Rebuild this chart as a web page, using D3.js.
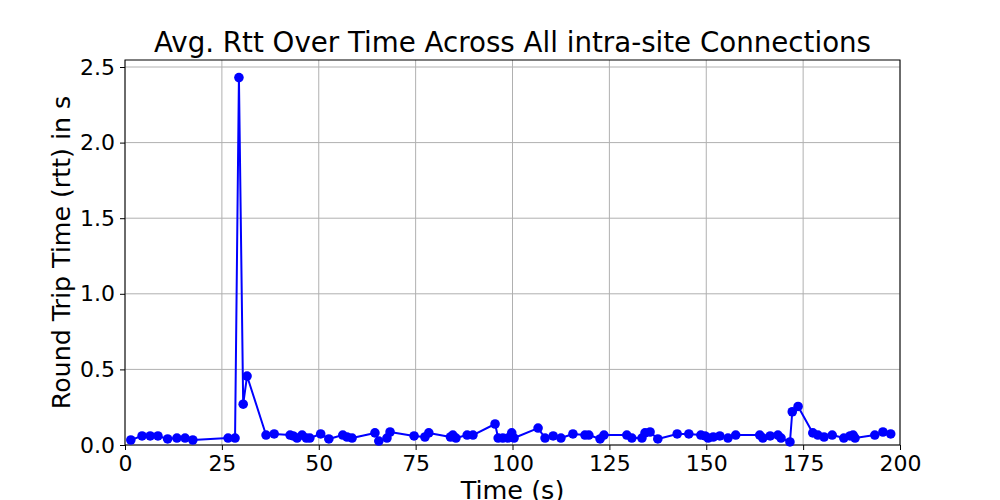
<!DOCTYPE html>
<html>
<head>
<meta charset="utf-8">
<script src="https://cdn.jsdelivr.net/npm/d3@7"></script>
<style>
  body { margin: 0; background: #fff; }
  svg { display: block; font-family: "DejaVu Sans", sans-serif; }
</style>
</head>
<body>
<svg id="chart" width="1000" height="500"></svg>
<script>
const titleText = "Avg. Rtt Over Time Across All intra-site Connections";
const xLabel = "Time (s)";
const yLabel = "Round Trip Time (rtt) in s";
const xTicks = [0, 25, 50, 75, 100, 125, 150, 175, 200];
const yTicks = [0.0, 0.5, 1.0, 1.5, 2.0, 2.5];

const times = [1.5, 4.4, 6.5, 8.5, 11.0, 13.4, 15.5, 17.5, 26.6, 28.4, 29.4, 30.5, 31.5,
  36.4, 38.5, 42.6, 43.4, 44.4, 45.7, 46.8, 47.7, 50.5, 52.6, 56.2, 57.3, 58.6,
  64.5, 65.5, 67.6, 68.4, 74.6, 77.4, 78.4, 84.0, 84.6, 85.4, 88.3, 89.8,
  95.5, 96.3, 97.5, 98.8, 99.8, 100.4, 106.6, 108.4, 110.5, 112.5, 115.6,
  118.7, 119.7, 122.6, 123.6, 129.5, 130.8, 133.4, 134.2, 135.5, 137.5,
  142.5, 145.5, 148.6, 149.7, 150.5, 151.8, 153.5, 155.6, 157.6,
  163.8, 164.6, 166.5, 168.5, 169.3, 171.6, 172.2, 173.7,
  177.5, 178.8, 180.4, 182.5, 185.5, 187.1, 187.9, 188.4, 193.5, 195.6, 197.6];
const rtts = [0.033, 0.06, 0.06, 0.06, 0.04, 0.046, 0.046, 0.033, 0.046, 0.046, 2.43, 0.27, 0.456,
  0.066, 0.073, 0.066, 0.06, 0.046, 0.066, 0.046, 0.046, 0.073, 0.04, 0.066, 0.053, 0.046,
  0.08, 0.026, 0.046, 0.086, 0.06, 0.053, 0.08, 0.053, 0.066, 0.046, 0.066, 0.066,
  0.139, 0.046, 0.046, 0.046, 0.08, 0.046, 0.112, 0.046, 0.06, 0.046, 0.073,
  0.066, 0.066, 0.04, 0.066, 0.066, 0.046, 0.046, 0.08, 0.086, 0.04,
  0.073, 0.073, 0.066, 0.06, 0.046, 0.053, 0.06, 0.046, 0.066,
  0.066, 0.046, 0.06, 0.066, 0.046, 0.02, 0.22, 0.255,
  0.08, 0.066, 0.053, 0.066, 0.046, 0.06, 0.066, 0.046, 0.066, 0.086, 0.073];

const data = times.map((t, i) => ({ t, v: rtts[i] }));

const svg = d3.select("#chart");
const m = { left: 125, right: 900, top: 60, bottom: 445 };

const x = d3.scaleLinear().domain([0, 200]).range([m.left, m.right]);
const y = d3.scaleLinear().domain([0, 2.5463]).range([m.bottom, m.top]);

// grid
const grid = svg.append("g");
grid.selectAll(".gx").data(xTicks).enter().append("line")
  .attr("x1", d => x(d)).attr("x2", d => x(d))
  .attr("y1", m.top).attr("y2", m.bottom)
  .attr("stroke", "#b0b0b0").attr("stroke-width", 1);
grid.selectAll(".gy").data(yTicks).enter().append("line")
  .attr("y1", d => y(d)).attr("y2", d => y(d))
  .attr("x1", m.left).attr("x2", m.right)
  .attr("stroke", "#b0b0b0").attr("stroke-width", 1);

// axes
const xAxis = d3.axisBottom(x).tickValues(xTicks).tickFormat(d3.format("d")).tickSize(5).tickPadding(5);
const yAxis = d3.axisLeft(y).tickValues(yTicks).tickFormat(d3.format(".1f")).tickSize(5).tickPadding(5);

const gx = svg.append("g").attr("transform", `translate(0,${m.bottom})`).call(xAxis);
const gy = svg.append("g").attr("transform", `translate(${m.left},0)`).call(yAxis);
[gx, gy].forEach(g => {
  g.select(".domain").remove();
  g.selectAll(".tick line").attr("stroke", "#000").attr("stroke-width", 1);
  g.selectAll(".tick text").attr("fill", "#000").style("font-size", "22px")
    .style("font-family", "DejaVu Sans, sans-serif");
});

// frame
svg.append("rect")
  .attr("x", m.left).attr("y", m.top)
  .attr("width", m.right - m.left).attr("height", m.bottom - m.top)
  .attr("fill", "none").attr("stroke", "#000").attr("stroke-width", 1);

// line
const line = d3.line().x(d => x(d.t)).y(d => y(d.v));
svg.append("path").datum(data)
  .attr("d", line).attr("fill", "none")
  .attr("stroke", "#0000ff").attr("stroke-width", 2).attr("stroke-linejoin", "round");

svg.selectAll(".pt").data(data).enter().append("circle")
  .attr("cx", d => x(d.t)).attr("cy", d => y(d.v)).attr("r", 4.8)
  .attr("fill", "#0000ff");

// title and labels
svg.append("text").attr("x", (m.left + m.right) / 2).attr("y", 52)
  .attr("text-anchor", "middle").style("font-size", "27.7px").text(titleText);
svg.append("text").attr("x", (m.left + m.right) / 2).attr("y", 499)
  .attr("text-anchor", "middle").style("font-size", "25.5px").text(xLabel);
svg.append("text")
  .attr("transform", `translate(70,${(m.top + m.bottom) / 2}) rotate(-90)`)
  .attr("text-anchor", "middle").style("font-size", "25.3px").text(yLabel);
</script>
</body>
</html>
